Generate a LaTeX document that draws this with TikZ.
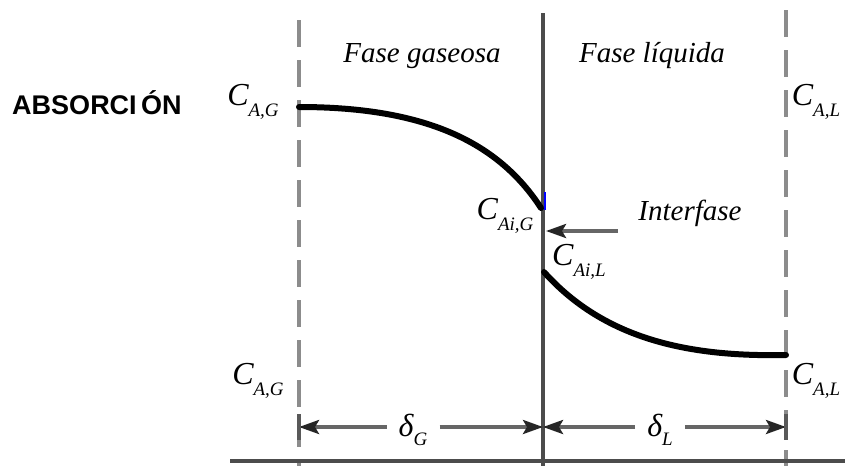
\documentclass[tikz,border=0pt]{standalone}
\usepackage{fontspec}
\setmainfont{Liberation Serif}
\newfontfamily\arialfont{Liberation Sans}
\usetikzlibrary{arrows.meta}
\newcommand{\conc}[1]{{\fontsize{32}{32}\selectfont\textit{C}}\raisebox{-0.38em}{\fontsize{19}{19}\selectfont\itshape #1}}
\begin{document}
\begin{tikzpicture}[x=1pt,y=-1pt,
  dashln/.style={line width=4pt,draw=black!45,dash pattern=on 27pt off 13pt},
  solidln/.style={line width=4pt,draw=black!70},
  curveln/.style={line width=6pt,draw=black,line cap=round},
  lbl/.style={font=\fontsize{29}{29}\selectfont\itshape,inner sep=0pt},
  dimarrow/.style={line width=3.5pt,draw=black!60,-{Stealth[length=20pt,width=14pt,inset=4pt,color=black!85]}},
  tickbar/.style={line width=4pt,draw=black!65}]
\useasboundingbox (0,0) rectangle (845,466);
% guide lines
\coordinate (lt) at (299,20); \coordinate (lb) at (299,466);
\coordinate (rt) at (786,10); \coordinate (rb) at (786,466);
\coordinate (ct) at (543,13); \coordinate (cb) at (543,466);
\coordinate (bl) at (230,461); \coordinate (br) at (845,461);
\draw[dashln] (lt) -- (lb);
\draw[dashln] (rt) -- (rb);
\draw[solidln] (ct) -- (cb);
\draw[solidln] (bl) -- (br);
% concentration profiles
\coordinate (g0) at (299,107); \coordinate (g1) at (541,208);
\coordinate (l0) at (544,272); \coordinate (l1) at (786,355);
\draw[curveln] (g0) .. controls (430,107) and (500,145) .. (g1);
\draw[curveln] (l0) .. controls (605,340) and (690,357) .. (l1);
\coordinate (bm0) at (545,192); \coordinate (bm1) at (545,210);
\draw[blue,line width=1.5pt] (bm0) -- (bm1);
% labels
\node[font=\arialfont\bfseries\fontsize{27}{27}\selectfont,inner sep=0pt] (abs) at (97,103) {ABSORCI\,ÓN};
\node[lbl] (cag1) at (253,102) {\conc{A,G}};
\node[lbl] (cal1) at (816,102) {\conc{A,L}};
\node[lbl] (caig) at (505,216) {\conc{Ai,G}};
\node[lbl] (cail) at (579,262) {\conc{Ai,L}};
\node[lbl] (cag2) at (258,381) {\conc{A,G}};
\node[lbl] (cal2) at (816,381) {\conc{A,L}};
\node[lbl] (fg) at (422,56) {Fase gaseosa};
\node[lbl] (fl) at (652,56) {Fase líquida};
\node[lbl] (intf) at (690,213) {Interfase};
% interface arrow
\coordinate (ia0) at (618,231); \coordinate (ia1) at (546,231);
\draw[dimarrow] (ia0) -- (ia1);
% dimension arrows
\coordinate (dL) at (299,427); \coordinate (dC) at (543,427); \coordinate (dR) at (786,427);
\node[lbl] (dg) at (413,430) {{\fontsize{32}{32}\selectfont δ}\raisebox{-0.3em}{\fontsize{19}{19}\selectfont\itshape G}};
\node[lbl] (dl) at (660,430) {{\fontsize{32}{32}\selectfont δ}\raisebox{-0.3em}{\fontsize{19}{19}\selectfont\itshape L}};
\draw[dimarrow] (dg.west) ++(-12,-3) -- (dL);
\draw[dimarrow] (dg.east) ++(12,-3) -- (dC);
\draw[dimarrow] (dl.west) ++(-12,-3) -- (dC);
\draw[dimarrow] (dl.east) ++(12,-3) -- (dR);
\coordinate (tl0) at (299,414); \coordinate (tl1) at (299,440);
\coordinate (tr0) at (786,414); \coordinate (tr1) at (786,440);
\draw[tickbar] (tl0) -- (tl1);
\draw[tickbar] (tr0) -- (tr1);
\end{tikzpicture}
\end{document}
